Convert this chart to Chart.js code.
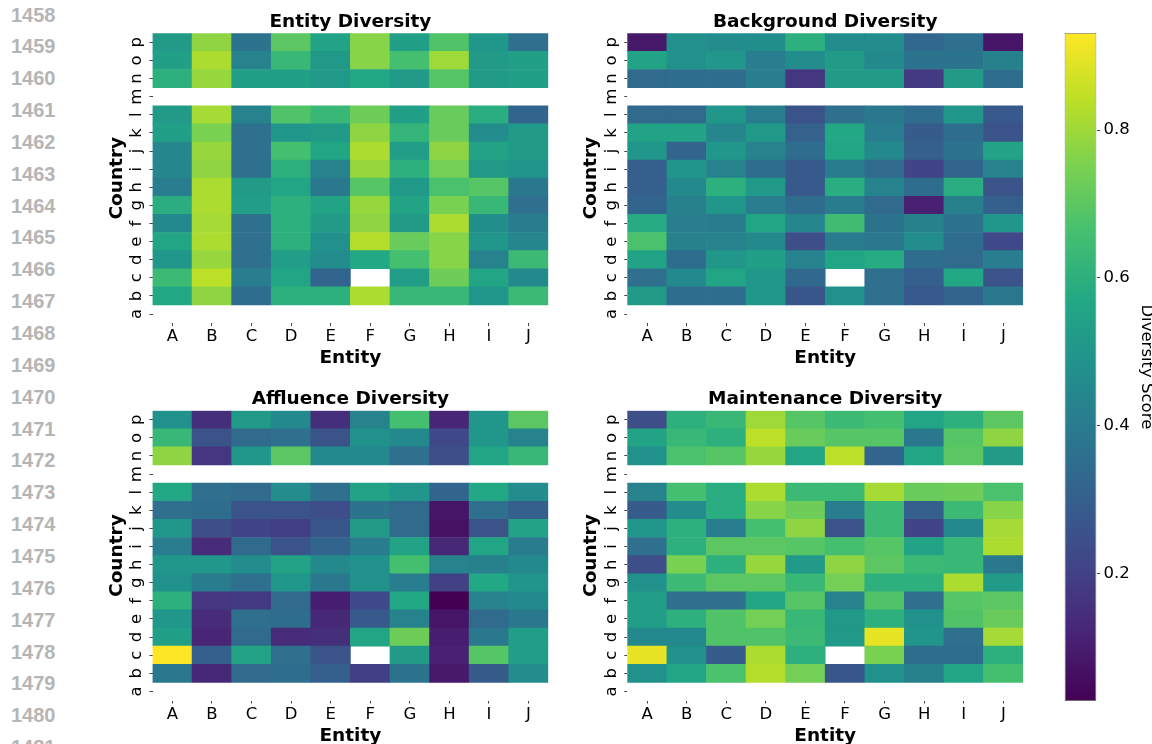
<!DOCTYPE html>
<html>
<head>
<meta charset="utf-8">
<script src="https://cdn.jsdelivr.net/npm/chart.js@4.4.1/dist/chart.umd.min.js"></script>
<style>
  html, body { margin: 0; padding: 0; width: 1152px; height: 744px; overflow: hidden; background: #fff; }
  canvas { position: absolute; }
  .lineno { position: absolute; left: 11px; font: bold 20px 'Liberation Sans', Arial, sans-serif; color: #b5b5b5; line-height: 20px; }
</style>
</head>
<body>
<div id="lines"></div>
<canvas id="entityChart"></canvas>
<canvas id="backgroundChart"></canvas>
<canvas id="affluenceChart"></canvas>
<canvas id="maintenanceChart"></canvas>
<canvas id="colorbar"></canvas>
<script>
// ---- data (rows listed a -> p, bottom to top; null = no value) ----
const entities = ['A', 'B', 'C', 'D', 'E', 'F', 'G', 'H', 'I', 'J'];
const countries = ['a', 'b', 'c', 'd', 'e', 'f', 'g', 'h', 'i', 'j', 'k', 'l', 'm', 'n', 'o', 'p'];
const emptyRow = [null, null, null, null, null, null, null, null, null, null];

const entityDiversity = [
  emptyRow,
  [0.57, 0.78, 0.35, 0.60, 0.60, 0.82, 0.63, 0.63, 0.50, 0.64],
  [0.64, 0.84, 0.41, 0.56, 0.32, null, 0.53, 0.73, 0.56, 0.45],
  [0.50, 0.79, 0.36, 0.53, 0.46, 0.57, 0.66, 0.77, 0.43, 0.64],
  [0.56, 0.82, 0.36, 0.60, 0.48, 0.83, 0.72, 0.77, 0.50, 0.44],
  [0.45, 0.81, 0.36, 0.60, 0.52, 0.78, 0.52, 0.82, 0.47, 0.40],
  [0.59, 0.82, 0.53, 0.60, 0.55, 0.79, 0.55, 0.75, 0.63, 0.36],
  [0.41, 0.82, 0.52, 0.56, 0.39, 0.69, 0.51, 0.67, 0.69, 0.39],
  [0.44, 0.78, 0.36, 0.60, 0.43, 0.79, 0.60, 0.74, 0.51, 0.49],
  [0.44, 0.79, 0.36, 0.66, 0.56, 0.82, 0.53, 0.78, 0.55, 0.52],
  [0.54, 0.75, 0.36, 0.50, 0.52, 0.78, 0.62, 0.72, 0.46, 0.52],
  [0.52, 0.81, 0.43, 0.68, 0.63, 0.73, 0.54, 0.72, 0.59, 0.32],
  emptyRow,
  [0.60, 0.79, 0.54, 0.54, 0.51, 0.57, 0.52, 0.69, 0.52, 0.54],
  [0.54, 0.82, 0.43, 0.63, 0.51, 0.77, 0.66, 0.80, 0.52, 0.54],
  [0.52, 0.78, 0.37, 0.70, 0.55, 0.77, 0.54, 0.68, 0.50, 0.36]
];

const backgroundDiversity = [
  emptyRow,
  [0.52, 0.35, 0.35, 0.50, 0.27, 0.48, 0.36, 0.28, 0.32, 0.39],
  [0.36, 0.45, 0.56, 0.50, 0.33, null, 0.36, 0.30, 0.57, 0.26],
  [0.55, 0.35, 0.50, 0.54, 0.43, 0.56, 0.58, 0.35, 0.34, 0.41],
  [0.67, 0.42, 0.43, 0.45, 0.24, 0.40, 0.39, 0.46, 0.35, 0.22],
  [0.58, 0.41, 0.40, 0.56, 0.44, 0.65, 0.37, 0.42, 0.37, 0.50],
  [0.32, 0.42, 0.50, 0.41, 0.35, 0.40, 0.34, 0.11, 0.42, 0.30],
  [0.30, 0.45, 0.60, 0.51, 0.28, 0.59, 0.43, 0.35, 0.59, 0.26],
  [0.30, 0.49, 0.43, 0.35, 0.28, 0.40, 0.34, 0.21, 0.32, 0.43],
  [0.50, 0.32, 0.50, 0.43, 0.35, 0.56, 0.45, 0.30, 0.37, 0.55],
  [0.55, 0.55, 0.44, 0.51, 0.31, 0.57, 0.41, 0.29, 0.35, 0.26],
  [0.34, 0.34, 0.50, 0.41, 0.26, 0.36, 0.39, 0.35, 0.50, 0.28],
  emptyRow,
  [0.34, 0.35, 0.35, 0.41, 0.17, 0.52, 0.52, 0.18, 0.52, 0.35],
  [0.55, 0.48, 0.50, 0.41, 0.46, 0.52, 0.45, 0.37, 0.37, 0.42],
  [0.09, 0.48, 0.46, 0.47, 0.60, 0.46, 0.46, 0.33, 0.36, 0.08]
];

const affluenceDiversity = [
  emptyRow,
  [0.39, 0.13, 0.34, 0.35, 0.30, 0.19, 0.37, 0.09, 0.29, 0.46],
  [0.932, 0.30, 0.55, 0.36, 0.26, null, 0.52, 0.11, 0.69, 0.53],
  [0.54, 0.12, 0.34, 0.14, 0.15, 0.56, 0.73, 0.10, 0.39, 0.53],
  [0.50, 0.14, 0.36, 0.35, 0.13, 0.28, 0.43, 0.08, 0.34, 0.39],
  [0.60, 0.17, 0.18, 0.34, 0.10, 0.22, 0.57, 0.027, 0.43, 0.45],
  [0.48, 0.40, 0.36, 0.50, 0.39, 0.48, 0.41, 0.20, 0.57, 0.49],
  [0.50, 0.50, 0.46, 0.55, 0.45, 0.48, 0.66, 0.43, 0.42, 0.45],
  [0.41, 0.14, 0.34, 0.26, 0.32, 0.40, 0.55, 0.13, 0.56, 0.40],
  [0.50, 0.24, 0.21, 0.19, 0.27, 0.52, 0.34, 0.07, 0.26, 0.55],
  [0.36, 0.35, 0.26, 0.26, 0.24, 0.37, 0.34, 0.08, 0.36, 0.30],
  [0.57, 0.36, 0.34, 0.46, 0.36, 0.55, 0.50, 0.32, 0.57, 0.46],
  emptyRow,
  [0.78, 0.17, 0.50, 0.70, 0.45, 0.45, 0.36, 0.24, 0.56, 0.63],
  [0.63, 0.26, 0.34, 0.36, 0.26, 0.48, 0.45, 0.22, 0.50, 0.43],
  [0.48, 0.15, 0.51, 0.45, 0.15, 0.43, 0.66, 0.12, 0.50, 0.70]
];

const maintenanceDiversity = [
  emptyRow,
  [0.48, 0.56, 0.67, 0.83, 0.74, 0.27, 0.48, 0.42, 0.56, 0.66],
  [0.90, 0.48, 0.29, 0.82, 0.60, null, 0.75, 0.35, 0.35, 0.60],
  [0.45, 0.45, 0.68, 0.68, 0.64, 0.51, 0.90, 0.49, 0.36, 0.81],
  [0.53, 0.60, 0.68, 0.74, 0.63, 0.51, 0.60, 0.48, 0.68, 0.72],
  [0.53, 0.36, 0.36, 0.56, 0.69, 0.43, 0.68, 0.36, 0.69, 0.70],
  [0.48, 0.64, 0.70, 0.70, 0.63, 0.74, 0.60, 0.60, 0.82, 0.52],
  [0.24, 0.75, 0.60, 0.79, 0.51, 0.78, 0.70, 0.64, 0.63, 0.39],
  [0.36, 0.60, 0.70, 0.70, 0.69, 0.66, 0.69, 0.55, 0.63, 0.82],
  [0.50, 0.60, 0.41, 0.66, 0.78, 0.26, 0.64, 0.21, 0.45, 0.81],
  [0.29, 0.46, 0.59, 0.77, 0.73, 0.41, 0.64, 0.30, 0.64, 0.77],
  [0.43, 0.66, 0.59, 0.82, 0.64, 0.64, 0.81, 0.72, 0.73, 0.67],
  emptyRow,
  [0.48, 0.67, 0.69, 0.79, 0.56, 0.84, 0.32, 0.56, 0.70, 0.52],
  [0.55, 0.63, 0.60, 0.84, 0.72, 0.69, 0.69, 0.39, 0.69, 0.78],
  [0.24, 0.60, 0.63, 0.80, 0.69, 0.64, 0.66, 0.56, 0.60, 0.70]
];

const colorbarTicks = [0.2, 0.4, 0.6, 0.8];

// ---- colour map ----
const viridisStops = ['#440154', '#482475', '#414487', '#355f8d', '#2a788e', '#21918c',
                      '#22a884', '#44bf70', '#7ad151', '#bddf26', '#fde725'];

function hexRgb(h) {
  return [parseInt(h.slice(1, 3), 16), parseInt(h.slice(3, 5), 16), parseInt(h.slice(5, 7), 16)];
}

function viridis(t) {
  t = Math.max(0, Math.min(1, t));
  const p = t * 10;
  const i = Math.min(9, Math.floor(p));
  const f = p - i;
  const a = hexRgb(viridisStops[i]), b = hexRgb(viridisStops[i + 1]);
  const c = a.map((v, k) => Math.round(v + (b[k] - v) * f));
  return `rgb(${c[0]},${c[1]},${c[2]})`;
}

const allValues = [entityDiversity, backgroundDiversity, affluenceDiversity, maintenanceDiversity]
  .flat(2).filter(v => v != null);
const vmin = Math.min(...allValues);
const vmax = Math.max(...allValues);

Chart.defaults.font.family = "'DejaVu Sans', sans-serif";
Chart.defaults.color = '#000';

// ---- line numbers in the margin ----
const lines = document.getElementById('lines');
for (let i = 0; i < 24; i++) {
  const d = document.createElement('div');
  d.className = 'lineno';
  d.textContent = String(1458 + i);
  d.style.top = (4.5 + i * 31.85) + 'px';
  lines.appendChild(d);
}

// ---- heatmaps ----
const AXIS_W = 70, TITLE_H = 33.3, XAXIS_H = 46.3;
const CW = 476, CH = 372;

function heatmap(id, title, matrix, area) {
  const cv = document.getElementById(id);
  const cLeft = Math.floor(area.left) - AXIS_W;
  const cTop = Math.floor(area.top - TITLE_H);
  cv.width = CW;
  cv.height = CH;
  cv.style.left = cLeft + 'px';
  cv.style.top = cTop + 'px';

  const datasets = countries.map((c, i) => ({
    label: c,
    data: matrix[i].map(v => v == null ? null : [i, i + 1]),
    backgroundColor: matrix[i].map(v => v == null ? 'rgba(0,0,0,0)' : viridis((v - vmin) / (vmax - vmin))),
    borderWidth: 0,
    grouped: false,
    barPercentage: 1,
    categoryPercentage: 1
  }));

  const padLeft = area.left - AXIS_W - cLeft;
  const padTop = area.top - TITLE_H - cTop;

  return new Chart(cv, {
    type: 'bar',
    data: { labels: entities, datasets: datasets },
    options: {
      responsive: false,
      animation: false,
      devicePixelRatio: 1,
      layout: {
        padding: {
          left: padLeft,
          top: padTop,
          right: CW - (area.left - cLeft) - area.w,
          bottom: CH - (area.top - cTop) - area.h - XAXIS_H
        }
      },
      plugins: {
        legend: { display: false },
        tooltip: { enabled: false },
        title: {
          display: true,
          text: title,
          fullSize: false,
          font: { size: 18.5, weight: 'bold' },
          padding: { top: 10.6, bottom: 0.5 }
        }
      },
      scales: {
        x: {
          type: 'category',
          offset: true,
          afterFit: s => { s.height = XAXIS_H; },
          border: { display: false },
          grid: { offset: false, drawOnChartArea: false, drawTicks: true, tickLength: 3, tickColor: '#444' },
          ticks: { font: { size: 16.5 }, padding: 1, maxRotation: 0, autoSkip: false },
          title: { display: true, text: 'Entity', font: { size: 18.5, weight: 'bold' }, padding: { top: 0, bottom: 0 } }
        },
        y: {
          type: 'linear',
          min: 0,
          max: countries.length,
          afterBuildTicks: s => { s.ticks = countries.map((c, i) => ({ value: i + 0.5 })); },
          afterFit: s => { s.width = AXIS_W; },
          border: { display: false },
          grid: { drawOnChartArea: false, drawTicks: true, tickLength: 3, tickColor: '#444' },
          ticks: {
            callback: (v, i) => countries[i],
            minRotation: 90,
            maxRotation: 90,
            crossAlign: 'center',
            padding: 4.8,
            autoSkip: false,
            font: { size: 16.5 }
          },
          title: { display: true, text: 'Country', font: { size: 18.5, weight: 'bold' }, padding: { top: 23.1, bottom: 0 } }
        }
      }
    }
  });
}

heatmap('entityChart', 'Entity Diversity', entityDiversity, { left: 152.5, top: 33.3, w: 395.8, h: 289.8 });
heatmap('backgroundChart', 'Background Diversity', backgroundDiversity, { left: 627.3, top: 33.3, w: 395.8, h: 289.8 });
heatmap('affluenceChart', 'Affluence Diversity', affluenceDiversity, { left: 152.5, top: 410.7, w: 395.8, h: 289.8 });
heatmap('maintenanceChart', 'Maintenance Diversity', maintenanceDiversity, { left: 627.3, top: 410.7, w: 395.8, h: 289.8 });

// ---- colour bar ----
const cb = document.getElementById('colorbar');
cb.width = 120;
cb.height = 744;
cb.style.left = '1040px';
cb.style.top = '0px';

new Chart(cb, {
  type: 'bar',
  data: {
    labels: ['Diversity Score'],
    datasets: [{
      data: [[vmin, vmax]],
      backgroundColor: ctx => {
        const area = ctx.chart.chartArea;
        if (!area) return viridisStops[5];
        const g = ctx.chart.ctx.createLinearGradient(0, area.bottom, 0, area.top);
        viridisStops.forEach((c, k) => g.addColorStop(k / 10, c));
        return g;
      },
      borderColor: 'rgba(95,95,95,0.9)',
      borderWidth: 1,
      borderSkipped: false,
      barPercentage: 1,
      categoryPercentage: 1,
      inflateAmount: 0
    }]
  },
  options: {
    responsive: false,
    animation: false,
    devicePixelRatio: 1,
    layout: { padding: { left: 24.5, top: 32.7, bottom: 43, right: 0 } },
    plugins: { legend: { display: false }, tooltip: { enabled: false } },
    scales: {
      x: { display: false },
      y: {
        position: 'right',
        min: vmin,
        max: vmax,
        afterBuildTicks: s => { s.ticks = colorbarTicks.map(v => ({ value: v })); },
        afterFit: s => { s.width = 63.5; },
        border: { display: false },
        grid: { drawOnChartArea: false, drawTicks: true, tickLength: 3.5, tickColor: '#444' },
        ticks: { callback: v => v.toFixed(1), padding: 3.5, font: { size: 16.5 } },
        title: { display: true, text: 'Diversity Score', font: { size: 16.5 }, padding: { top: 4.1, bottom: 0 } }
      }
    }
  }
});
</script>
</body>
</html>
